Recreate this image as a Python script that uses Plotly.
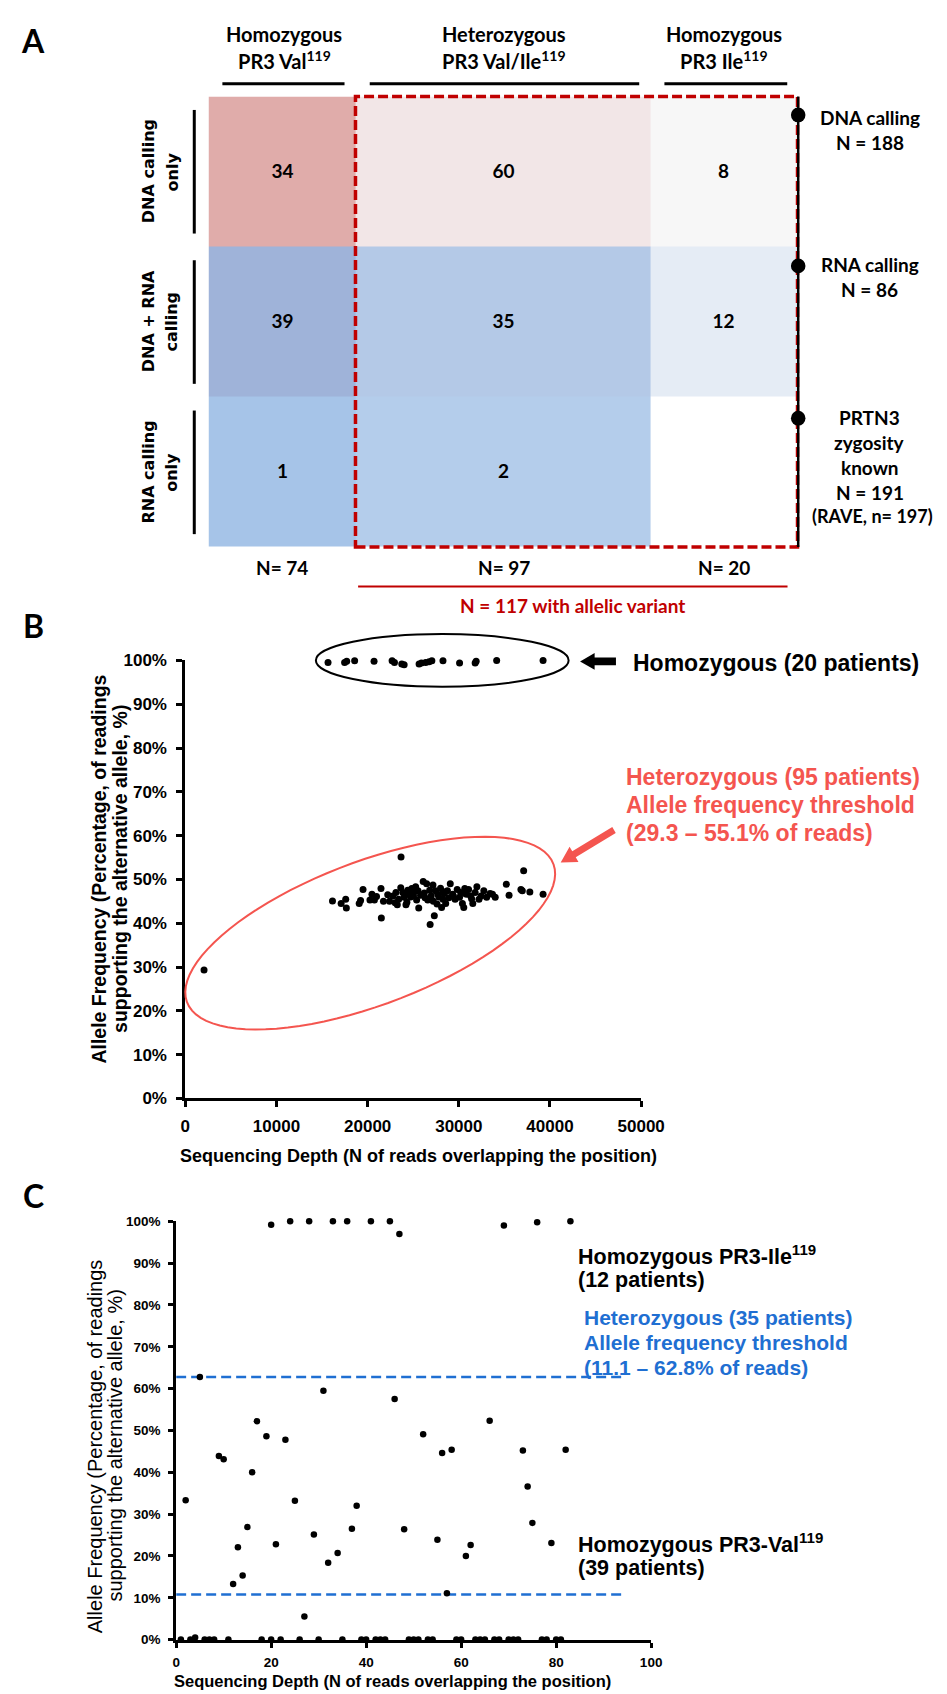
import math
import plotly.graph_objects as go

W, H = 947, 1694

# ---------------- Panel A data ----------------
genotype_headers = [("Homozygous", "PR3 Val<sup>119</sup>"),
                    ("Heterozygous", "PR3 Val/Ile<sup>119</sup>"),
                    ("Homozygous", "PR3 Ile<sup>119</sup>")]
calling_rows = [("DNA calling", "only"), ("DNA + RNA", "calling"), ("RNA calling", "only")]
counts = [[34, 60, 8],
          [39, 35, 12],
          [1, 2, None]]
cell_colors = [["#E0ACAA", "#F2E6E7", "#F7F7F7"],
               ["#9FB3D9", "#B4C9E7", "#E5ECF5"],
               ["#A6C4E8", "#B4CDEB", "#FFFFFF"]]
col_edges = [0, 1, 3, 4]
row_edges = [0, 1, 2, 3]
col_totals = ["N= 74", "N= 97", "N= 20"]
calling_totals = [["DNA calling", "N = 188"],
                  ["RNA calling", "N = 86"],
                  ["PRTN3", "zygosity", "known", "N = 191", "(RAVE, n= 197)"]]
variant_total = "N = 117 with allelic variant"

# ---------------- Panel B data ----------------
b_hom_depth = [15650, 17470, 17700, 18570, 20700, 22680, 22940, 23740, 24000, 25640,
               25900, 26360, 26740, 27040, 28260, 30080, 31790, 31900, 34150, 39240]
b_hom_af = [99.5, 99.5, 99.8, 99.9, 99.8, 99.9, 99.5, 99.2, 99.0, 99.2,
            99.4, 99.5, 99.7, 99.9, 99.9, 99.4, 99.4, 99.8, 100.0, 100.0]
b_het_depth = [2050, 23660, 37110, 16140, 17090, 17590, 17660, 19070, 19220, 19490,
               20250, 20470, 20740, 20970, 21460, 21500, 21730, 22790, 23020, 23250,
               23630, 23850, 24000, 24200, 24390, 24610, 24840, 25030, 25260, 25370,
               25520, 25600, 26090, 26210, 26470, 26590, 26850, 26970, 27160, 27310,
               27420, 27610, 27800, 27990, 28110, 28260, 28410, 28560, 28750, 29060,
               29320, 29590, 29820, 30080, 30390, 30540, 30650, 30840, 31070, 31300,
               31530, 31790, 31980, 32210, 32440, 32740, 33050, 33430, 33690, 33990,
               35210, 35510, 36810, 36960, 37790, 39240,
               22200, 22400, 23100, 23400, 24100, 24300, 24700, 25100, 25800, 26300,
               26800, 27200, 27700, 28300, 28900, 29400, 30200, 30700, 31400]
b_het_af = [29.3, 55.1, 52.0, 45.1, 44.5, 45.5, 43.5, 44.5, 45.2, 47.7,
            45.3, 46.6, 45.3, 46.1, 47.9, 41.2, 45.0, 46.2, 44.7, 44.2,
            48.1, 47.0, 45.9, 44.2, 47.5, 46.6, 47.9, 46.2, 48.3, 45.3,
            47.4, 43.5, 49.5, 46.9, 49.0, 45.3, 39.7, 46.2, 48.7, 41.7,
            47.4, 44.4, 46.0, 48.0, 43.6, 45.5, 46.8, 44.5, 47.4, 49.0,
            46.6, 45.5, 47.7, 45.9, 44.5, 43.6, 47.9, 46.6, 47.7, 46.2,
            44.5, 47.0, 48.3, 45.5, 46.2, 47.4, 45.9, 46.8, 46.6, 45.9,
            48.9, 46.4, 47.7, 47.4, 47.1, 46.6,
            46.5, 45.0, 47.0, 45.5, 46.8, 44.8, 46.0, 47.2, 46.4, 45.8,
            47.5, 45.0, 46.6, 47.2, 45.8, 46.2, 47.0, 46.8, 45.6]

# ---------------- Panel C data ----------------
c_ile_depth = [20, 24, 28, 33, 36, 41, 45, 47, 69, 76, 83]
c_ile_af = [99.2, 100, 100, 100, 100, 100, 100, 97.0, 99.0, 99.8, 100]
c_het_depth = [2, 5, 9, 10, 12, 13, 14, 15, 16, 17, 19, 21, 23, 25, 27, 29, 31, 32,
               34, 37, 38, 46, 48, 52, 55, 56, 57, 58, 61, 62, 66, 73, 74, 75, 79, 82]
c_het_af = [33.3, 62.8, 43.9, 43.1, 13.3, 22.1, 15.3, 26.9, 40.0, 52.2, 48.6, 22.8,
            47.8, 33.2, 5.5, 25.1, 59.5, 18.4, 20.7, 26.5, 32.0, 57.5, 26.4, 49.1,
            23.9, 44.6, 11.1, 45.4, 20.0, 22.6, 52.3, 45.2, 36.6, 27.9, 23.1, 45.4]
c_val_depth = [1, 3, 4, 6, 7, 8, 11, 18, 20, 22, 26, 30, 35, 39, 40, 42, 43, 44, 49,
               50, 51, 53, 54, 59, 60, 63, 64, 65, 67, 68, 70, 71, 72, 77, 78, 80, 81]
c_val_af = [0, 0, 0.5, 0, 0, 0, 0, 0, 0, 0, 0, 0, 0, 0, 0, 0, 0, 0, 0,
            0, 0, 0, 0, 0, 0, 0, 0, 0, 0, 0, 0, 0, 0, 0, 0, 0, 0]
c_threshold_af = [10.8, 62.8]
c_threshold_depth = [0, 94]

# ---------------- helpers ----------------
ARIAL = "Liberation Sans"
CALI = "Lato"
RED_DARK = "#C00000"
RED_LIGHT = "#F4554F"
BLUE = "#1F6FD2"


def px(x):
    return x / W


def py(y):
    return 1 - y / H


annotations = []
shapes = []


def ann(text, x, y, size, color="black", family=ARIAL, xanchor="center",
        yanchor="middle", angle=0, bold=True):
    t = f"<b>{text}</b>" if bold else text
    annotations.append(dict(text=t, x=px(x), y=py(y), xref="paper", yref="paper",
                            showarrow=False, xanchor=xanchor, yanchor=yanchor,
                            textangle=angle,
                            font=dict(family=family, size=size, color=color)))


def block_arrow(hx, hy, tx, ty, shaft_w, head_w, head_len, color):
    dx, dy = tx - hx, ty - hy
    L = math.hypot(dx, dy)
    ux, uy = dx / L, dy / L
    nx, ny = -uy, ux
    bxp, byp = hx + ux * head_len, hy + uy * head_len
    poly = [(hx, hy),
            (bxp + nx * head_w / 2, byp + ny * head_w / 2),
            (bxp + nx * shaft_w / 2, byp + ny * shaft_w / 2),
            (tx + nx * shaft_w / 2, ty + ny * shaft_w / 2),
            (tx - nx * shaft_w / 2, ty - ny * shaft_w / 2),
            (bxp - nx * shaft_w / 2, byp - ny * shaft_w / 2),
            (bxp - nx * head_w / 2, byp - ny * head_w / 2)]
    path = "M " + " L ".join(f"{px(a):.5f},{py(b):.5f}" for a, b in poly) + " Z"
    shapes.append(dict(type="path", xref="paper", yref="paper", path=path,
                       fillcolor=color, line=dict(color=color, width=0)))


def line(x0, y0, x1, y1, color="black", width=3, dash="solid"):
    shapes.append(dict(type="line", xref="paper", yref="paper", x0=px(x0), y0=py(y0),
                       x1=px(x1), y1=py(y1), line=dict(color=color, width=width, dash=dash)))


# pixel frames of the three panels
A_X = (201.7, 809.3)
A_Y = (80.4, 536.0)
B_X = (177.8, 648.0)
B_Y = (650.7, 1093.7)
C_X = (168.3, 658.3)
C_Y = (1218.0, 1641.0)


def bx(d):
    return B_X[0] + d / 50000 * (B_X[1] - B_X[0])


def by(v):
    return B_Y[1] - v * (B_Y[1] - B_Y[0])


fig = go.Figure()

# ---------------- Panel A heatmap ----------------
flat_colors = [c for row in cell_colors for c in row]
n = len(flat_colors)
colorscale = [[i / (n - 1), c] for i, c in enumerate(flat_colors)]
z_idx = [[r * 3 + c for c in range(3)] for r in range(3)]
txt = [["" if v is None else str(v) for v in row] for row in counts]
fig.add_trace(go.Heatmap(z=z_idx, x=col_edges, y=row_edges, colorscale=colorscale,
                         zmin=0, zmax=n - 1, showscale=False, text=txt,
                         texttemplate="%{text}",
                         textfont=dict(family=CALI, size=19, color="black", weight="bold"),
                         hoverinfo="skip", xaxis="x", yaxis="y"))

# ---------------- Panel B scatter ----------------
fig.add_trace(go.Scatter(x=b_hom_depth, y=[v / 100 for v in b_hom_af], mode="markers",
                         marker=dict(color="black", size=7), cliponaxis=False,
                         xaxis="x2", yaxis="y2", hoverinfo="skip"))
fig.add_trace(go.Scatter(x=b_het_depth, y=[v / 100 for v in b_het_af], mode="markers",
                         marker=dict(color="black", size=7), cliponaxis=False,
                         xaxis="x2", yaxis="y2", hoverinfo="skip"))

# ---------------- Panel C scatter ----------------
for thr in c_threshold_af:
    fig.add_trace(go.Scatter(x=c_threshold_depth, y=[thr / 100] * 2, mode="lines",
                             line=dict(color=BLUE, width=2.5, dash="10px,5px"),
                             xaxis="x3", yaxis="y3", hoverinfo="skip"))
for xs, ys in ((c_ile_depth, c_ile_af), (c_het_depth, c_het_af), (c_val_depth, c_val_af)):
    fig.add_trace(go.Scatter(x=xs, y=[v / 100 for v in ys], mode="markers",
                             marker=dict(color="black", size=6.5), cliponaxis=False,
                             xaxis="x3", yaxis="y3", hoverinfo="skip"))

# ---------------- Panel A decorations ----------------
ann("A", 21, 24, 32, family=CALI)
col_centers = [279.6, 507.0, 733.0]
for (l1, l2), cx in zip(genotype_headers, col_centers):
    ann(l1, cx, 17, 20, family=CALI)
    ann(l2, cx, 43, 20, family=CALI)
for x0, x1 in ((216, 342), (368, 646), (672, 798.7)):
    line(x0, 67.5, x1, 67.5, width=3)

row_centers = [156.2, 308.0, 460.0]
for (l1, l2), cy in zip(calling_rows, row_centers):
    ann(l1, 140, cy, 16, family="DejaVu Sans", angle=-90)
    ann(l2, 164, cy, 16, family="DejaVu Sans", angle=-90)
for y0, y1 in ((94, 219), (246, 371), (398, 523)):
    line(187, y0, 187, y1, width=3)

# red dashed frame around the allelic-variant columns
shapes.append(dict(type="rect", xref="paper", yref="paper", x0=px(353.3), x1=px(809.3),
                   y0=py(536), y1=py(80.4),
                   line=dict(color=RED_DARK, width=3.5, dash="10px,4px")))
line(810, 80.4, 810, 536, width=2.5)
for yy in (99, 251.7, 405.7):
    shapes.append(dict(type="circle", xref="paper", yref="paper", x0=px(802.5), x1=px(817.5),
                       y0=py(yy + 7.5), y1=py(yy - 7.5), fillcolor="black",
                       line=dict(color="black", width=0)))
label_rows = [[101.7, 126.7], [250, 276], [405, 430.7, 456, 481, 505]]
for lines, ys in zip(calling_totals, label_rows):
    for t, yy in zip(lines, ys):
        ann(t, 884 if not t.startswith("(") else 887, yy,
            19 if not t.startswith("(") else 18, family=CALI)

for t, cx in zip(col_totals, [277, 506, 733]):
    ann(t, cx, 557, 19, family=CALI)
line(356, 576, 799, 576, color=RED_DARK, width=2)
ann(variant_total, 577, 595, 19, color=RED_DARK, family=CALI)

# ---------------- Panel B decorations ----------------
ann("B", 21, 615, 32, family=CALI)
shapes.append(dict(type="circle", xref="paper", yref="paper",
                   x0=px(bx(14319)), x1=px(bx(42043)), y0=py(by(0.94)), y1=py(by(1.06)),
                   line=dict(color="black", width=2)))
ecx, ecy, ea, eb, eth = 368.5, 926.5, 201.5, 72.7, math.radians(20.2)
pts = []
for k in range(0, 361, 4):
    t = math.radians(k)
    ex = ecx + ea * math.cos(t) * math.cos(eth) - eb * math.sin(t) * math.sin(eth)
    ey = ecy - (ea * math.cos(t) * math.sin(eth) + eb * math.sin(t) * math.cos(eth))
    pts.append(f"{px(ex):.5f},{py(ey):.5f}")
shapes.append(dict(type="path", xref="paper", yref="paper",
                   path="M " + " L ".join(pts) + " Z", line=dict(color=RED_LIGHT, width=2)))

block_arrow(585, 651.7, 622, 651.7, 8, 17, 15, "black")
ann("Homozygous (20 patients)", 638, 653.3, 23, xanchor="left")
block_arrow(565, 855, 620, 822.3, 7, 18, 16, RED_LIGHT)
for t, yy in (("Heterozygous (95 patients)", 768.3), ("Allele frequency threshold", 796.5),
              ("(29.3 – 55.1% of reads)", 825)):
    ann(t, 630.7, yy, 23, color=RED_LIGHT, xanchor="left")

ann("Sequencing Depth (N of reads overlapping the position)", 418, 1152, 18)
ann("Allele Frequency (Percentage, of readings", 89, 862, 19.5, angle=-90)
ann("supporting the alternative allele, %)", 111, 862, 19.5, angle=-90)

# ---------------- Panel C decorations ----------------
ann("C", 21, 1192, 32, family=CALI)
ann("Homozygous PR3-Ile<sup>119</sup>", 581, 1252, 21.5, xanchor="left")
ann("(12 patients)", 581, 1277, 21.5, xanchor="left")
for t, yy in (("Heterozygous (35 patients)", 1315.7), ("Allele frequency threshold", 1340.5),
              ("(11.1 – 62.8% of reads)", 1366)):
    ann(t, 586.7, yy, 21, color=BLUE, xanchor="left")
ann("Homozygous PR3-Val<sup>119</sup>", 581, 1543, 21.5, xanchor="left")
ann("(39 patients)", 581, 1569, 21.5, xanchor="left")
ann("Sequencing Depth (N of reads overlapping the position)", 392, 1683, 16.5)
ann("Allele Frequency (Percentage, of readings", 84, 1445, 20, angle=-90, bold=False)
ann("supporting the alternative allele, %)", 105, 1445, 20, angle=-90, bold=False)

# ---------------- axes ----------------
tick_b = dict(family=ARIAL, size=17, color="black", weight="bold")
tick_c = dict(family=ARIAL, size=13.5, color="black", weight="bold")
common = dict(showgrid=False, zeroline=False, showline=True, linecolor="black",
              linewidth=3, ticks="outside", tickcolor="black", tickwidth=3,
              fixedrange=True, layer="below traces")

fig.update_layout(
    width=W, height=H, autosize=False, margin=dict(l=0, r=0, t=0, b=0),
    paper_bgcolor="white", plot_bgcolor="rgba(0,0,0,0)", showlegend=False,
    xaxis=dict(domain=[px(A_X[0]), px(A_X[1])], range=[0, 4], visible=False,
               fixedrange=True, anchor="y"),
    yaxis=dict(domain=[py(A_Y[1]), py(A_Y[0])], range=[3, 0], visible=False,
               fixedrange=True, anchor="x"),
    xaxis2=dict(domain=[px(B_X[0]), px(B_X[1])], range=[0, 50000], anchor="y2",
                tickvals=[0, 10000, 20000, 30000, 40000, 50000], tickformat="d",
                ticklen=6, tickfont=tick_b, ticklabelstandoff=4, **common),
    yaxis2=dict(domain=[py(B_Y[1]), py(B_Y[0])], range=[0, 1], anchor="x2",
                tickvals=[i / 10 for i in range(11)], tickformat=".0%",
                ticklen=6, tickfont=tick_b, ticklabelstandoff=6, **common),
    xaxis3=dict(domain=[px(C_X[0]), px(C_X[1])], range=[0, 100], anchor="y3",
                tickvals=[0, 20, 40, 60, 80, 100], ticklen=5, tickfont=tick_c,
                ticklabelstandoff=3, **common),
    yaxis3=dict(domain=[py(C_Y[1]), py(C_Y[0])], range=[0, 1], anchor="x3",
                tickvals=[i / 10 for i in range(11)], tickformat=".0%",
                ticklen=5, tickfont=tick_c, ticklabelstandoff=5, **common),
    annotations=annotations, shapes=shapes,
)

fig.write_html("out.html")
